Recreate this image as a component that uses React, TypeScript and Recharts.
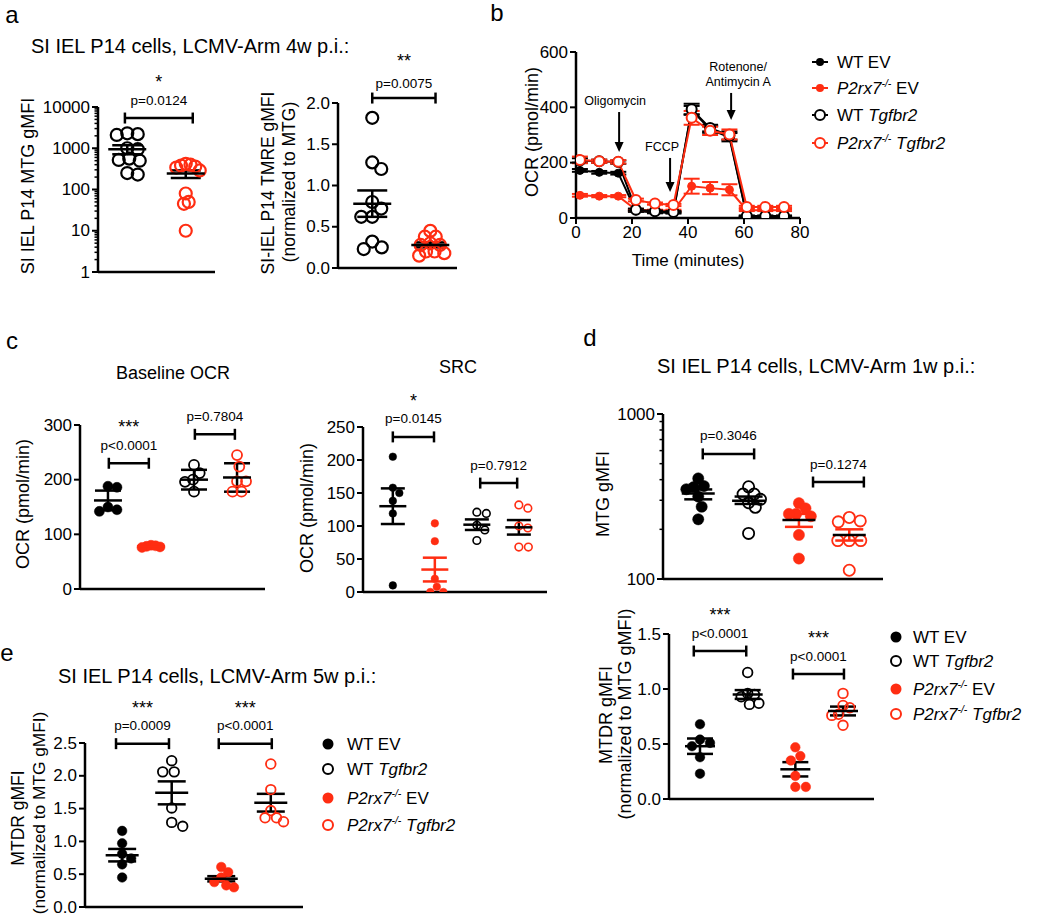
import React from 'react';
import { ScatterChart, Scatter, XAxis, YAxis, ErrorBar, ReferenceLine, LineChart, Line } from 'recharts';

const FONT = '"Liberation Sans", Arial, Helvetica, sans-serif';
const BLACK = '#000000';
const RED = '#ff2d12';
const YW = 60;
const MR = 12;
const MB = 14;
const XH = 6;
const TICK = 6;
const TM = 2;

// ---------------- DATA ----------------
const genoLabels = ['WT EV', 'WT Tgfbr2', 'P2rx7-/- EV', 'P2rx7-/- Tgfbr2'];
const bLegendLabels = ['WT EV', 'P2rx7-/- EV', 'WT Tgfbr2', 'P2rx7-/- Tgfbr2'];

// panel a (4w p.i.)
const aMtgWT = [2300, 2100, 2200, 1000, 950, 520, 560, 500, 250, 230];
const aMtgKO = [420, 400, 380, 360, 340, 290, 80, 50, 45, 10];
const aMtgMean = [950, 245];
const aMtgErrLo = [236, 55];
const aMtgErrHi = [233, 45];
const aTmreWT = [1.82, 1.28, 1.2, 0.8, 0.72, 0.62, 0.62, 0.32, 0.23, 0.25];
const aTmreKO = [0.45, 0.38, 0.38, 0.3, 0.28, 0.28, 0.2, 0.2, 0.15, 0.18];
const aTmreMean = [0.78, 0.28];
const aTmreSem = [0.16, 0.03];

// panel b (Seahorse OCR time course)
const bTime = [1.4, 8.3, 15.1, 21.4, 28.2, 34.8, 41.3, 47.9, 54.8, 61, 67.6, 74.3];
const bWtEV = [172, 165, 162, 25, 20, 19, 390, 320, 292, 6, 6, 6];
const bWtEVErr = [5, 5, 5, 3, 3, 3, 15, 12, 15, 2, 2, 2];
const bKoEV = [82, 79, 79, 30, 27, 27, 115, 108, 102, 28, 28, 28];
const bKoEVErr = [5, 4, 4, 3, 3, 3, 27, 22, 20, 3, 3, 3];
const bWtTg = [208, 205, 202, 30, 24, 22, 393, 325, 298, 7, 7, 7];
const bWtTgErr = [8, 6, 6, 4, 3, 3, 20, 12, 15, 2, 2, 2];
const bKoTg = [210, 205, 203, 65, 52, 47, 362, 315, 302, 40, 40, 40];
const bKoTgErr = [12, 6, 6, 5, 4, 4, 25, 15, 18, 4, 4, 4];
const bTimeTicks = [0, 20, 40, 60, 80];
const bOcrTicks = [0, 200, 400, 600];
const bInjections = [
  { label: ['Oligomycin'], t: 15.4, from: 383, to: 239, dx: -4 },
  { label: ['FCCP'], t: 33.6, from: 217, to: 94, dx: -8 },
  { label: ['Rotenone/', 'Antimycin A'], t: 55.4, from: 452, to: 354, dx: 7 },
];

// panel c
const cBaseWTEV = [188, 186, 150, 145, 142];
const cBaseKOEV = [80, 78, 76, 77, 79];
const cBaseWTTg = [227, 212, 200, 196, 178];
const cBaseKOTg = [245, 224, 197, 197, 178, 178];
const cBaseMean = [162, 78, 200, 204];
const cBaseErr = [18, 2, 18, 26];
const cSrcWTEV = [205, 158, 150, 138, 119, 10];
const cSrcKOEV = [104, 77, 20, 8, 0, 0];
const cSrcWTTg = [121, 119, 101, 94, 78];
const cSrcKOTg = [132, 127, 100, 97, 68, 68];
const cSrcMean = [130, 34, 102, 98];
const cSrcErr = [27, 18, 8, 11];

// panel d (1w p.i.)
const dMtgWTEV = [407, 366, 360, 350, 316, 274, 230];
const dMtgWTTg = [362, 327, 327, 304, 290, 272, 189];
const dMtgKOEV = [288, 268, 248, 248, 240, 185, 133];
const dMtgKOTg = [236, 225, 222, 171, 171, 171, 113];
const dMtgMean = [330, 298, 228, 185];
const dMtgErrLo = [26, 13, 21, 14];
const dMtgErrHi = [19, 18, 20, 15];
const dMtdrWTEV = [0.68, 0.54, 0.51, 0.48, 0.38, 0.23];
const dMtdrWTTg = [1.15, 0.96, 0.95, 0.93, 0.87, 0.86];
const dMtdrKOEV = [0.47, 0.39, 0.35, 0.21, 0.11, 0.11];
const dMtdrKOTg = [0.96, 0.85, 0.83, 0.77, 0.76, 0.67];
const dMtdrMean = [0.48, 0.95, 0.27, 0.8];
const dMtdrErr = [0.07, 0.04, 0.065, 0.04];

// panel e (5w p.i.)
const eWTEV = [1.16, 0.97, 0.81, 0.74, 0.65, 0.45];
const eWTTg = [2.23, 2.06, 2.06, 1.51, 1.23, 1.29];
const eKOEV = [0.61, 0.53, 0.45, 0.38, 0.3, 0.33];
const eKOTg = [2.18, 1.79, 1.47, 1.3, 1.36, 1.36];
const eMean = [0.79, 1.74, 0.43, 1.59];
const eErr = [0.095, 0.175, 0.04, 0.135];

// ---------------- HELPERS ----------------
type Group = {
  values: number[]; mean: number; lo: number; hi: number;
  color: string; filled: boolean; meanColor: string; errColor: string;
};
type Bracket = { x1: number; x2: number; y: number; p: string; stars?: string; pOff?: number; sOff?: number };

const grp = (values: number[], mean: number, lo: number, hi: number, color: string, filled: boolean, meanColor = BLACK, errColor = meanColor): Group =>
  ({ values, mean, lo, hi, color, filled, meanColor, errColor });

function makeYTick(minorSet: Set<number>, fmt: (v: number) => string) {
  return (p: any) => {
    const { x, y, payload } = p;
    const v = payload.value;
    const isMinor = minorSet.has(v);
    const ax = x + TICK + TM;
    return (
      <g>
        <line x1={ax - (isMinor ? 3.5 : TICK)} x2={ax} y1={y} y2={y} stroke={BLACK} strokeWidth={isMinor ? 1.5 : 2} />
        {!isMinor && (
          <text x={x} y={y} textAnchor="end" dominantBaseline="central" fontSize={17} fontFamily={FONT} fill={BLACK}>
            {fmt(v)}
          </text>
        )}
      </g>
    );
  };
}

function swarm(values: number[], toPx: (v: number) => number, minDist: number, limit: number): number[] {
  const idx = values.map((_, i) => i).sort((a, b) => toPx(values[a]) - toPx(values[b]));
  const placed: { x: number; y: number }[] = [];
  const out = new Array(values.length).fill(0);
  for (const i of idx) {
    const y = toPx(values[i]);
    let chosen = 0;
    for (let k = 0; k < 400; k++) {
      const mag = Math.ceil(k / 2) * 0.5;
      const cand = k % 2 === 1 ? mag : -mag;
      const ok = placed.every((p) => (p.x - cand) ** 2 + (p.y - y) ** 2 >= minDist * minDist);
      if (ok) { chosen = cand; break; }
    }
    placed.push({ x: chosen, y });
    out[i] = chosen;
  }
  const maxAbs = Math.max(...out.map((v) => Math.abs(v)), 0.0001);
  const s = maxAbs > limit ? limit / maxAbs : 1;
  return out.map((v) => v * s);
}

const bracketShape = (b: Bracket) => (p: any) => {
  const { x1, x2, y1 } = p;
  const cx = (x1 + x2) / 2;
  return (
    <g>
      <line x1={x1} x2={x2} y1={y1} y2={y1} stroke={BLACK} strokeWidth={2.5} />
      <line x1={x1} x2={x1} y1={y1 - 5.5} y2={y1 + 5.5} stroke={BLACK} strokeWidth={2.5} />
      <line x1={x2} x2={x2} y1={y1 - 5.5} y2={y1 + 5.5} stroke={BLACK} strokeWidth={2.5} />
      <text x={cx} y={y1 - (b.pOff ?? 18)} textAnchor="middle" dominantBaseline="central" fontSize={13.5} fontFamily={FONT} fill={BLACK}>{b.p}</text>
      {b.stars && (
        <text x={cx} y={y1 - (b.sOff ?? 36)} textAnchor="middle" dominantBaseline="central" fontSize={18} fontFamily={FONT} fill={BLACK}>{b.stars}</text>
      )}
    </g>
  );
};

type DotPanelProps = {
  plotX: number; plotY: number; plotW: number; plotH: number; mt: number;
  xDomain: [number, number]; yDomain: [number, number]; log?: boolean;
  ticks: number[]; minor?: number[]; fmt: (v: number) => string;
  groups: Group[]; brackets: Bracket[]; r: number; sw: number; meanW: number; capW: number; gap?: number; limit?: number;
};

function DotPanel(props: DotPanelProps) {
  const { plotX, plotY, plotW, plotH, mt, xDomain, yDomain, log, ticks, minor = [], fmt, groups, brackets, r, sw, meanW, capW, gap, limit } = props;
  const W = YW + plotW + MR;
  const H = mt + plotH + XH + MB;
  const toPx = (v: number) => {
    const t = log
      ? (Math.log10(v) - Math.log10(yDomain[0])) / (Math.log10(yDomain[1]) - Math.log10(yDomain[0]))
      : (v - yDomain[0]) / (yDomain[1] - yDomain[0]);
    return plotH * (1 - t);
  };
  const minorSet = new Set(minor);
  const allTicks = [...ticks, ...minor].sort((a, b) => a - b);
  const lim = limit ?? meanW / 2 - r + 1;
  return (
    <div style={{ position: 'absolute', left: plotX - YW, top: plotY - mt }}>
      <ScatterChart width={W} height={H} margin={{ top: mt, right: MR, bottom: MB, left: 0 }}>
        <XAxis type="number" dataKey="x" domain={xDomain} allowDataOverflow tick={false} tickLine={false}
          axisLine={{ stroke: BLACK, strokeWidth: 2.5 }} height={XH} />
        <YAxis type="number" dataKey="y" domain={yDomain} allowDataOverflow scale={log ? 'log' : 'linear'}
          ticks={allTicks} interval={0} width={YW} tickLine={false} tickSize={TICK} tickMargin={TM}
          axisLine={{ stroke: BLACK, strokeWidth: 2.5 }} tick={makeYTick(minorSet, fmt)} />
        {groups.map((g, gi) => {
          const off = swarm(g.values, toPx, gap ?? 2 * r + (g.filled ? 0.5 : sw), lim);
          const data = g.values.map((v, i) => ({ x: gi + 1, y: v, jit: off[i] }));
          return (
            <Scatter key={'p' + gi} data={data} isAnimationActive={false}
              shape={(sp: any) => (
                <circle cx={sp.cx + (sp.payload?.jit ?? sp.jit ?? 0)} cy={sp.cy} r={r}
                  fill={g.filled ? g.color : 'none'} stroke={g.color} strokeWidth={g.filled ? 0.5 : sw} />
              )} />
          );
        })}
        {groups.map((g, gi) => (
          <Scatter key={'m' + gi} data={[{ x: gi + 1, y: g.mean, err: [g.lo, g.hi] }]} isAnimationActive={false}
            shape={(sp: any) => (
              <line x1={sp.cx - meanW / 2} x2={sp.cx + meanW / 2} y1={sp.cy} y2={sp.cy} stroke={g.meanColor} strokeWidth={2.5} />
            )}>
            <ErrorBar dataKey="err" direction="y" width={capW} stroke={g.errColor} strokeWidth={2.5} />
          </Scatter>
        ))}
        {brackets.map((b, i) => (
          <ReferenceLine key={'b' + i} segment={[{ x: b.x1, y: b.y }, { x: b.x2, y: b.y }]}
            ifOverflow="visible" stroke={BLACK} shape={bracketShape(b)} />
        ))}
      </ScatterChart>
    </div>
  );
}

const arrowShape = (lines: string[], dx: number) => (p: any) => {
  const { x1, y1, y2 } = p;
  const top = Math.min(y1, y2);
  const bot = Math.max(y1, y2);
  return (
    <g>
      <line x1={x1} x2={x1} y1={top} y2={bot - 8} stroke={BLACK} strokeWidth={2} />
      <polygon points={`${x1 - 4.5},${bot - 10} ${x1 + 4.5},${bot - 10} ${x1},${bot}`} fill={BLACK} />
      {lines.map((s, i) => (
        <text key={i} x={x1 + dx} y={top - 11 - (lines.length - 1 - i) * 15} textAnchor="middle"
          dominantBaseline="central" fontSize={12.5} fontFamily={FONT} fill={BLACK}>{s}</text>
      ))}
    </g>
  );
};

function OcrPanel() {
  const plotX = 576, plotY = 52, plotW = 224, plotH = 166, mt = 10, mr = 15, xh = 30;
  const rows = bTime.map((t, i) => ({
    t,
    wtEV: bWtEV[i], wtEVe: bWtEVErr[i],
    koEV: bKoEV[i], koEVe: bKoEVErr[i],
    wtTg: bWtTg[i], wtTge: bWtTgErr[i],
    koTg: bKoTg[i], koTge: bKoTgErr[i],
  }));
  const series = [
    { key: 'wtEV', color: BLACK, filled: true },
    { key: 'koEV', color: RED, filled: true },
    { key: 'wtTg', color: BLACK, filled: false },
    { key: 'koTg', color: RED, filled: false },
  ];
  return (
    <div style={{ position: 'absolute', left: plotX - YW, top: plotY - mt }}>
      <LineChart width={YW + plotW + mr} height={mt + plotH + xh} data={rows} margin={{ top: mt, right: mr, bottom: 0, left: 0 }}>
        <XAxis type="number" dataKey="t" domain={[0, 80]} ticks={bTimeTicks} allowDataOverflow interval={0} height={xh}
          tickSize={6} tickMargin={2} axisLine={{ stroke: BLACK, strokeWidth: 2.5 }} tickLine={{ stroke: BLACK, strokeWidth: 2 }}
          tick={{ fill: BLACK, fontSize: 17, fontFamily: FONT }} />
        <YAxis type="number" domain={[0, 600]} ticks={bOcrTicks} allowDataOverflow interval={0} width={YW} tickLine={false}
          tickSize={TICK} tickMargin={TM} axisLine={{ stroke: BLACK, strokeWidth: 2.5 }} tick={makeYTick(new Set(), (v) => String(v))} />
        {series.map((s) => (
          <Line key={s.key} dataKey={s.key} type="linear" stroke={s.color} strokeWidth={2} isAnimationActive={false}
            dot={s.filled ? { r: 4, fill: s.color, stroke: s.color, strokeWidth: 1 } : { r: 5, fill: '#ffffff', stroke: s.color, strokeWidth: 2 }}
            activeDot={false}>
            <ErrorBar dataKey={s.key + 'e'} direction="y" width={8} stroke={s.color} strokeWidth={2} />
          </Line>
        ))}
        {bInjections.map((a, i) => (
          <ReferenceLine key={'inj' + i} segment={[{ x: a.t, y: a.from }, { x: a.t, y: a.to }]} ifOverflow="visible"
            stroke={BLACK} shape={arrowShape(a.label, a.dx)} />
        ))}
      </LineChart>
    </div>
  );
}

// --------------- TEXT OVERLAY ---------------
function Geno({ label, x, y, fs }: { label: string; x: number; y: number; fs: number }) {
  const toks = label.split(' ');
  const parts: React.ReactNode[] = [];
  let pending = 0;
  toks.forEach((tk, i) => {
    const sp = i > 0 ? ' ' : '';
    if (tk.startsWith('P2rx7')) {
      parts.push(<tspan key={i + 'a'} fontStyle="italic" dy={pending || undefined}>{sp + 'P2rx7'}</tspan>);
      parts.push(<tspan key={i + 'b'} fontStyle="italic" fontSize={fs * 0.62} dy={-fs * 0.42}>{tk.slice(5)}</tspan>);
      pending = fs * 0.42;
    } else {
      parts.push(<tspan key={i} fontStyle={tk === 'Tgfbr2' ? 'italic' : 'normal'} dy={pending || undefined}>{sp + tk}</tspan>);
      pending = 0;
    }
  });
  return (
    <text x={x} y={y + 0.36 * fs} fontSize={fs} fontFamily={FONT} fill={BLACK} style={{ whiteSpace: 'pre' }}>{parts}</text>
  );
}

function T({ x, y, fs, children, anchor = 'start' }: { x: number; y: number; fs: number; children: React.ReactNode; anchor?: string }) {
  return <text x={x} y={y + 0.36 * fs} fontSize={fs} fontFamily={FONT} fill={BLACK} textAnchor={anchor as any}>{children}</text>;
}

function VT({ x, y, fs, children }: { x: number; y: number; fs: number; children: React.ReactNode }) {
  return (
    <text x={0} y={0.36 * fs} fontSize={fs} fontFamily={FONT} fill={BLACK} textAnchor="middle"
      transform={`translate(${x},${y}) rotate(-90)`}>{children}</text>
  );
}

function Overlay() {
  const dotStyle = [
    { color: BLACK, filled: true }, { color: BLACK, filled: false },
    { color: RED, filled: true }, { color: RED, filled: false },
  ];
  const bStyle = [
    { color: BLACK, filled: true }, { color: RED, filled: true },
    { color: BLACK, filled: false }, { color: RED, filled: false },
  ];
  const bRowsY = [62, 88, 115, 143];
  const dRowsY = [637, 661, 689, 714];
  const eRowsY = [744, 769, 798, 825];
  const mk = (x: number, y: number, s: { color: string; filled: boolean }) =>
    s.filled
      ? <circle cx={x} cy={y} r={5.5} fill={s.color} />
      : <circle cx={x} cy={y} r={5} fill="none" stroke={s.color} strokeWidth={2} />;
  return (
    <svg width={1050} height={921} style={{ position: 'absolute', left: 0, top: 0, pointerEvents: 'none' }}>
      {/* panel letters */}
      <T x={12} y={14} fs={24} anchor="middle">a</T>
      <T x={497} y={12} fs={24} anchor="middle">b</T>
      <T x={12} y={340} fs={24} anchor="middle">c</T>
      <T x={590} y={337} fs={24} anchor="middle">d</T>
      <T x={7} y={652} fs={24} anchor="middle">e</T>
      {/* titles */}
      <T x={31} y={46} fs={20}>SI IEL P14 cells, LCMV-Arm 4w p.i.:</T>
      <T x={173} y={373} fs={18} anchor="middle">Baseline OCR</T>
      <T x={458} y={367} fs={18} anchor="middle">SRC</T>
      <T x={657} y={366} fs={20}>SI IEL P14 cells, LCMV-Arm 1w p.i.:</T>
      <T x={58} y={676} fs={20}>SI IEL P14 cells, LCMV-Arm 5w p.i.:</T>
      {/* axis titles */}
      <VT x={28} y={186} fs={18}>SI IEL P14 MTG gMFI</VT>
      <VT x={268} y={183} fs={17.5}>SI-IEL P14 TMRE gMFI</VT>
      <VT x={289} y={182} fs={17.5}>(normalized to MTG)</VT>
      <VT x={532} y={132} fs={18}>OCR (pmol/min)</VT>
      <T x={688} y={260} fs={17} anchor="middle">Time (minutes)</T>
      <VT x={23} y={504} fs={18}>OCR (pmol/min)</VT>
      <VT x={307} y={508} fs={18}>OCR (pmol/min)</VT>
      <VT x={603} y={494} fs={18}>MTG gMFI</VT>
      <VT x={606} y={715} fs={18}>MTDR gMFI</VT>
      <VT x={625} y={714} fs={18}>(normalized to MTG gMFI)</VT>
      <VT x={18} y={818} fs={17.5}>MTDR gMFI</VT>
      <VT x={39} y={813} fs={17.3}>(normalized to MTG gMFI)</VT>
      {/* legend b */}
      {bLegendLabels.map((lab, i) => (
        <g key={'lb' + i}>
          <line x1={812} x2={828} y1={bRowsY[i]} y2={bRowsY[i]} stroke={bStyle[i].color} strokeWidth={2} />
          {bStyle[i].filled
            ? <circle cx={820} cy={bRowsY[i]} r={4} fill={bStyle[i].color} />
            : <circle cx={820} cy={bRowsY[i]} r={5} fill="#ffffff" stroke={bStyle[i].color} strokeWidth={2} />}
          <Geno label={lab} x={837} y={bRowsY[i]} fs={17} />
        </g>
      ))}
      {/* legend d */}
      {genoLabels.map((lab, i) => (
        <g key={'ld' + i}>
          {mk(896, dRowsY[i], dotStyle[i])}
          <Geno label={lab} x={913} y={dRowsY[i]} fs={17} />
        </g>
      ))}
      {/* legend e */}
      {genoLabels.map((lab, i) => (
        <g key={'le' + i}>
          {mk(328, eRowsY[i], dotStyle[i])}
          <Geno label={lab} x={347} y={eRowsY[i]} fs={17} />
        </g>
      ))}
    </svg>
  );
}

// --------------- PANEL CONFIGS ---------------
const fmt1 = (v: number) => v.toFixed(1);
const fmt0 = (v: number) => String(v);
const logMinor = (decades: number[]) => decades.flatMap((d) => [2, 3, 4, 5, 6, 7, 8, 9].map((k) => k * d));

export default function App() {
  return (
    <div style={{ position: 'absolute', left: 0, top: 0, width: 1050, height: 921, background: '#ffffff', overflow: 'hidden' }}>
      <DotPanel plotX={98} plotY={107} plotW={117} plotH={165} mt={45} xDomain={[0.5, 2.5]} yDomain={[1, 10000]} log
        ticks={[1, 10, 100, 1000, 10000]} minor={logMinor([1, 10, 100, 1000])} fmt={fmt0}
        groups={[
          grp(aMtgWT, aMtgMean[0], aMtgErrLo[0], aMtgErrHi[0], BLACK, false),
          grp(aMtgKO, aMtgMean[1], aMtgErrLo[1], aMtgErrHi[1], RED, false),
        ]}
        brackets={[{ x1: 0.96, x2: 2.12, y: 5400, p: 'p=0.0124', stars: '*' }]}
        r={6} sw={2.2} meanW={38} capW={15} gap={10.5} limit={14} />
      <DotPanel plotX={338} plotY={103} plotW={119} plotH={165} mt={55} xDomain={[0.41, 2.46]} yDomain={[0, 2]}
        ticks={[0, 0.5, 1, 1.5, 2]} fmt={fmt1}
        groups={[
          grp(aTmreWT, aTmreMean[0], aTmreSem[0], aTmreSem[0], BLACK, false),
          grp(aTmreKO, aTmreMean[1], aTmreSem[1], aTmreSem[1], RED, false),
        ]}
        brackets={[{ x1: 1.0, x2: 2.09, y: 2.06, p: 'p=0.0075', stars: '**', pOff: 15, sOff: 37 }]}
        r={6} sw={2.2} meanW={38} capW={15} gap={11} limit={14} />
      <OcrPanel />
      <DotPanel plotX={80} plotY={425} plotW={185} plotH={164} mt={30} xDomain={[0.35, 4.65]} yDomain={[0, 300]}
        ticks={[0, 100, 200, 300]} fmt={fmt0}
        groups={[
          grp(cBaseWTEV, cBaseMean[0], cBaseErr[0], cBaseErr[0], BLACK, true),
          grp(cBaseKOEV, cBaseMean[1], cBaseErr[1], cBaseErr[1], RED, true, RED),
          grp(cBaseWTTg, cBaseMean[2], cBaseErr[2], cBaseErr[2], BLACK, false),
          grp(cBaseKOTg, cBaseMean[3], cBaseErr[3], cBaseErr[3], RED, false),
        ]}
        brackets={[
          { x1: 1.02, x2: 1.95, y: 230, p: 'p<0.0001', stars: '***' },
          { x1: 3.02, x2: 3.95, y: 283, p: 'p=0.7804' },
        ]}
        r={5} sw={1.8} meanW={28} capW={13} limit={9} />
      <DotPanel plotX={363} plotY={427} plotW={184} plotH={165} mt={45} xDomain={[0.29, 4.67]} yDomain={[0, 250]}
        ticks={[0, 50, 100, 150, 200, 250]} fmt={fmt0}
        groups={[
          grp(cSrcWTEV, cSrcMean[0], cSrcErr[0], cSrcErr[0], BLACK, true),
          grp(cSrcKOEV, cSrcMean[1], cSrcErr[1], cSrcErr[1], RED, true, RED),
          grp(cSrcWTTg, cSrcMean[2], cSrcErr[2], cSrcErr[2], BLACK, false),
          grp(cSrcKOTg, cSrcMean[3], cSrcErr[3], cSrcErr[3], RED, false),
        ]}
        brackets={[
          { x1: 1.0, x2: 1.98, y: 235, p: 'p=0.0145', stars: '*' },
          { x1: 3.08, x2: 3.96, y: 165, p: 'p=0.7912' },
        ]}
        r={3.8} sw={1.6} meanW={27} capW={12} />
      <DotPanel plotX={663} plotY={414} plotW={220} plotH={165} mt={15} xDomain={[0.3, 4.67]} yDomain={[100, 1000]} log
        ticks={[100, 1000]} minor={logMinor([100])} fmt={fmt0}
        groups={[
          grp(dMtgWTEV, dMtgMean[0], dMtgErrLo[0], dMtgErrHi[0], BLACK, true),
          grp(dMtgWTTg, dMtgMean[1], dMtgErrLo[1], dMtgErrHi[1], BLACK, false),
          grp(dMtgKOEV, dMtgMean[2], dMtgErrLo[2], dMtgErrHi[2], RED, true, BLACK, RED),
          grp(dMtgKOTg, dMtgMean[3], dMtgErrLo[3], dMtgErrHi[3], RED, false, BLACK, RED),
        ]}
        brackets={[
          { x1: 1.09, x2: 2.11, y: 573, p: 'p=0.3046' },
          { x1: 3.28, x2: 4.29, y: 387, p: 'p=0.1274' },
        ]}
        r={5.6} sw={1.8} meanW={33} capW={14} gap={11.5} />
      <DotPanel plotX={669} plotY={634} plotW={205} plotH={165} mt={40} xDomain={[0.35, 4.65]} yDomain={[0, 1.5]}
        ticks={[0, 0.5, 1, 1.5]} fmt={fmt1}
        groups={[
          grp(dMtdrWTEV, dMtdrMean[0], dMtdrErr[0], dMtdrErr[0], BLACK, true),
          grp(dMtdrWTTg, dMtdrMean[1], dMtdrErr[1], dMtdrErr[1], BLACK, false),
          grp(dMtdrKOEV, dMtdrMean[2], dMtdrErr[2], dMtdrErr[2], RED, true),
          grp(dMtdrKOTg, dMtdrMean[3], dMtdrErr[3], dMtdrErr[3], RED, false),
        ]}
        brackets={[
          { x1: 0.87, x2: 1.97, y: 1.345, p: 'p<0.0001', stars: '***' },
          { x1: 2.95, x2: 4.02, y: 1.136, p: 'p<0.0001', stars: '***' },
        ]}
        r={4.8} sw={1.8} meanW={30} capW={13} />
      <DotPanel plotX={85} plotY={743} plotW={218} plotH={164} mt={55} xDomain={[0.25, 4.65]} yDomain={[0, 2.5]}
        ticks={[0, 0.5, 1, 1.5, 2, 2.5]} fmt={fmt1}
        groups={[
          grp(eWTEV, eMean[0], eErr[0], eErr[0], BLACK, true),
          grp(eWTTg, eMean[1], eErr[1], eErr[1], BLACK, false),
          grp(eKOEV, eMean[2], eErr[2], eErr[2], RED, true),
          grp(eKOTg, eMean[3], eErr[3], eErr[3], RED, false),
        ]}
        brackets={[
          { x1: 0.876, x2: 1.945, y: 2.49, p: 'p=0.0009', stars: '***' },
          { x1: 2.95, x2: 4.02, y: 2.49, p: 'p<0.0001', stars: '***' },
        ]}
        r={4.8} sw={1.8} meanW={33} capW={14} />
      <Overlay />
    </div>
  );
}
